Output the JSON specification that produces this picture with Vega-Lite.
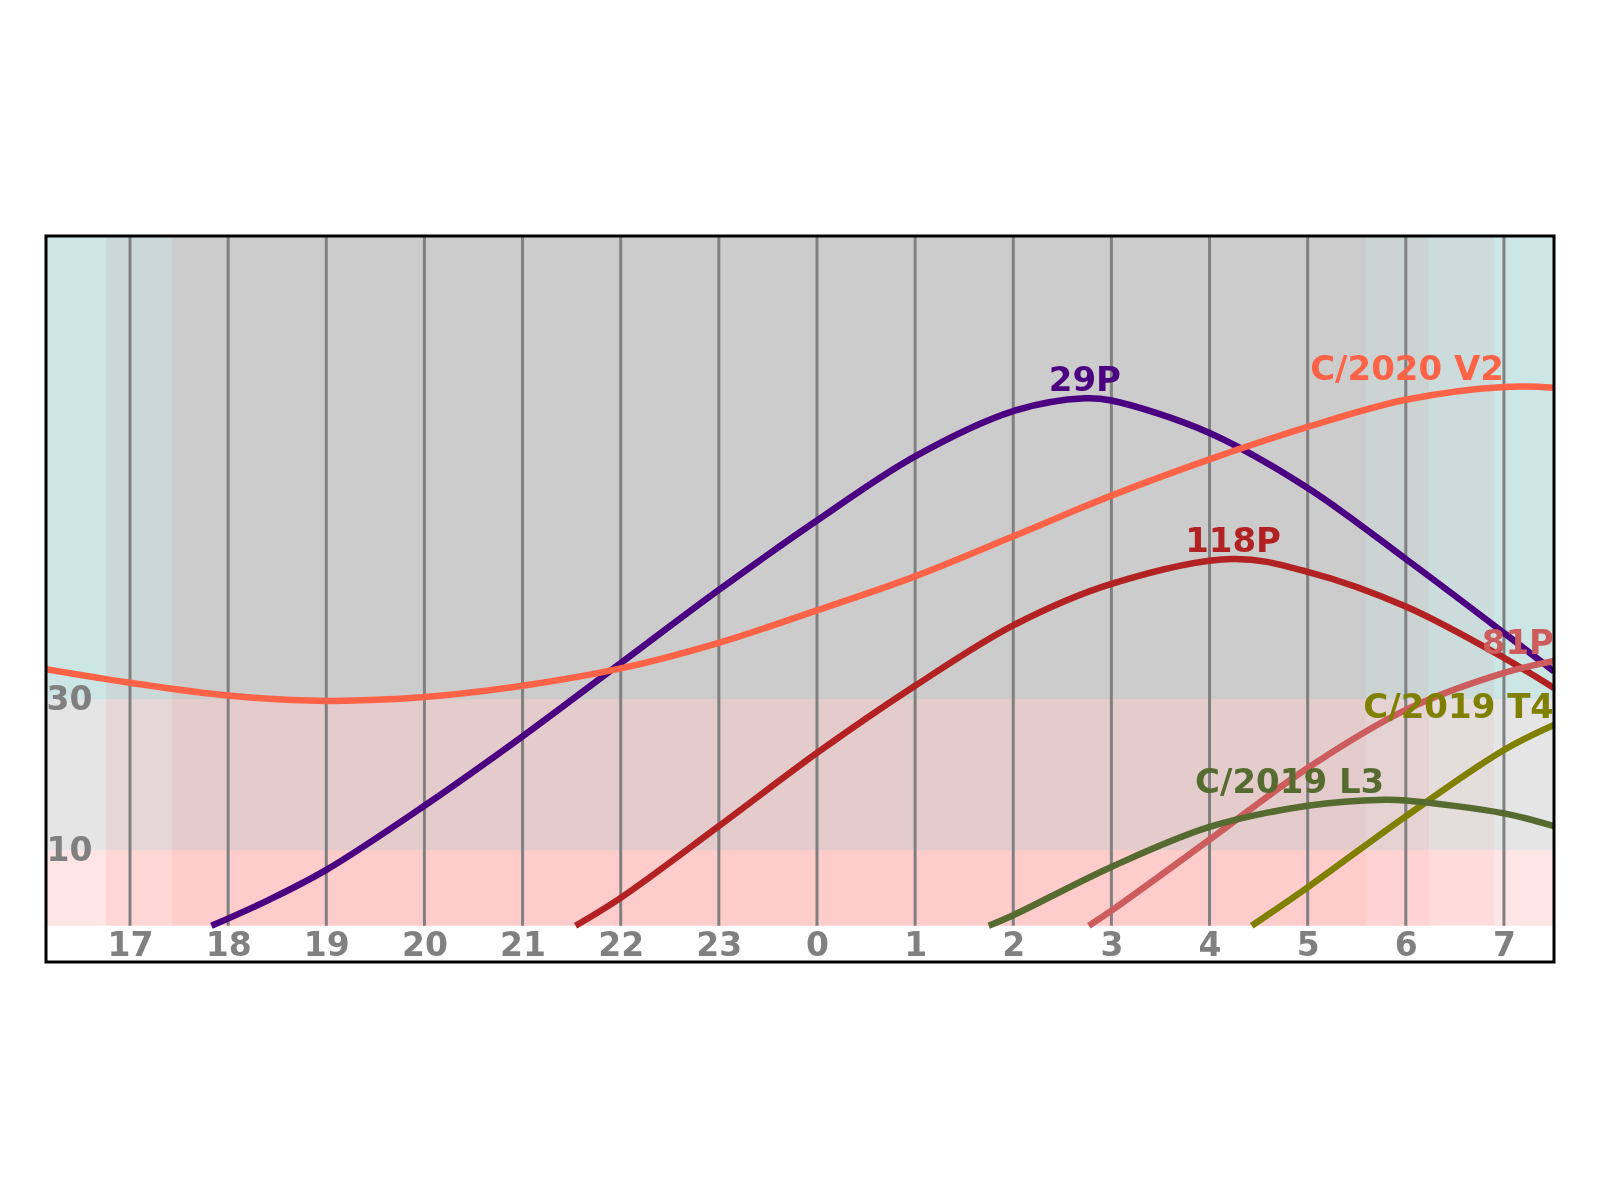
{
  "$schema": "https://vega.github.io/schema/vega-lite/v6.json",
  "width": 1508,
  "height": 726,
  "autosize": {"type": "none"},
  "padding": {"left": 46, "top": 236, "right": 46, "bottom": 238},
  "background": "white",
  "config": {
    "view": {"stroke": null},
    "font": "DejaVu Sans"
  },
  "datasets": {
    "vbands": [
      {"h0": 16.144, "h1": 16.755, "phase": "dusk civil"},
      {"h0": 16.755, "h1": 17.428, "phase": "dusk nautical"},
      {"h0": 17.428, "h1": 29.594, "phase": "night"},
      {"h0": 29.594, "h1": 30.236, "phase": "dawn astronomical"},
      {"h0": 30.236, "h1": 30.9, "phase": "dawn nautical"},
      {"h0": 30.9, "h1": 31.51, "phase": "dawn civil"}
    ],
    "hbands": [
      {"a0": 30, "a1": 91.4, "h0": 16.144, "h1": 31.51, "zone": "high"},
      {"a0": 10, "a1": 30, "h0": 16.144, "h1": 31.51, "zone": "mid"}
    ],
    "frame": [
      {"h0": 16.144, "h1": 31.51, "a0": -4.8, "a1": 91.4}
    ],
    "hours": [
      {"hour": 17}, {"hour": 18}, {"hour": 19}, {"hour": 20}, {"hour": 21},
      {"hour": 22}, {"hour": 23}, {"hour": 24}, {"hour": 25}, {"hour": 26},
      {"hour": 27}, {"hour": 28}, {"hour": 29}, {"hour": 30}, {"hour": 31}
    ],
    "curves": [
      {"comet": "29P", "hour": 17.83, "alt": 0},
      {"comet": "29P", "hour": 18.41, "alt": 3.4},
      {"comet": "29P", "hour": 19, "alt": 7.4},
      {"comet": "29P", "hour": 20, "alt": 15.9},
      {"comet": "29P", "hour": 21, "alt": 25.1},
      {"comet": "29P", "hour": 22, "alt": 34.8},
      {"comet": "29P", "hour": 23, "alt": 44.5},
      {"comet": "29P", "hour": 24, "alt": 53.7},
      {"comet": "29P", "hour": 25, "alt": 62.2},
      {"comet": "29P", "hour": 26, "alt": 68.2},
      {"comet": "29P", "hour": 26.73, "alt": 69.9},
      {"comet": "29P", "hour": 27, "alt": 69.6},
      {"comet": "29P", "hour": 28, "alt": 65.3},
      {"comet": "29P", "hour": 29, "alt": 58.0},
      {"comet": "29P", "hour": 30, "alt": 48.6},
      {"comet": "29P", "hour": 31, "alt": 38.8},
      {"comet": "29P", "hour": 31.51, "alt": 33.7},
      {"comet": "C/2020 V2", "hour": 16.144, "alt": 34.0},
      {"comet": "C/2020 V2", "hour": 17, "alt": 32.2},
      {"comet": "C/2020 V2", "hour": 18, "alt": 30.5},
      {"comet": "C/2020 V2", "hour": 19, "alt": 29.8},
      {"comet": "C/2020 V2", "hour": 20, "alt": 30.3},
      {"comet": "C/2020 V2", "hour": 21, "alt": 31.8},
      {"comet": "C/2020 V2", "hour": 22, "alt": 34.1},
      {"comet": "C/2020 V2", "hour": 23, "alt": 37.5},
      {"comet": "C/2020 V2", "hour": 24, "alt": 41.8},
      {"comet": "C/2020 V2", "hour": 25, "alt": 46.3},
      {"comet": "C/2020 V2", "hour": 26, "alt": 51.6},
      {"comet": "C/2020 V2", "hour": 27, "alt": 57.0},
      {"comet": "C/2020 V2", "hour": 28, "alt": 61.8},
      {"comet": "C/2020 V2", "hour": 29, "alt": 66.1},
      {"comet": "C/2020 V2", "hour": 30, "alt": 69.7},
      {"comet": "C/2020 V2", "hour": 31, "alt": 71.4},
      {"comet": "C/2020 V2", "hour": 31.51, "alt": 71.3},
      {"comet": "118P", "hour": 21.54, "alt": 0},
      {"comet": "118P", "hour": 22, "alt": 3.7},
      {"comet": "118P", "hour": 23, "alt": 13.2},
      {"comet": "118P", "hour": 24, "alt": 22.9},
      {"comet": "118P", "hour": 25, "alt": 31.8},
      {"comet": "118P", "hour": 26, "alt": 39.8},
      {"comet": "118P", "hour": 27, "alt": 45.3},
      {"comet": "118P", "hour": 28.24, "alt": 48.6},
      {"comet": "118P", "hour": 29, "alt": 46.9},
      {"comet": "118P", "hour": 30, "alt": 42.3},
      {"comet": "118P", "hour": 31, "alt": 35.5},
      {"comet": "118P", "hour": 31.51, "alt": 31.5},
      {"comet": "81P", "hour": 26.77, "alt": 0},
      {"comet": "81P", "hour": 27, "alt": 2.0},
      {"comet": "81P", "hour": 28, "alt": 11.4},
      {"comet": "81P", "hour": 29, "alt": 20.9},
      {"comet": "81P", "hour": 30, "alt": 28.6},
      {"comet": "81P", "hour": 31, "alt": 33.5},
      {"comet": "81P", "hour": 31.51, "alt": 35.1},
      {"comet": "C/2019 T4", "hour": 28.43, "alt": 0},
      {"comet": "C/2019 T4", "hour": 29, "alt": 5.1},
      {"comet": "C/2019 T4", "hour": 30, "alt": 14.5},
      {"comet": "C/2019 T4", "hour": 31, "alt": 23.3},
      {"comet": "C/2019 T4", "hour": 31.51, "alt": 26.6},
      {"comet": "C/2019 L3", "hour": 25.75, "alt": 0},
      {"comet": "C/2019 L3", "hour": 26, "alt": 1.4},
      {"comet": "C/2019 L3", "hour": 27, "alt": 7.8},
      {"comet": "C/2019 L3", "hour": 28, "alt": 13.1},
      {"comet": "C/2019 L3", "hour": 29, "alt": 15.9},
      {"comet": "C/2019 L3", "hour": 29.78, "alt": 16.7},
      {"comet": "C/2019 L3", "hour": 30, "alt": 16.6},
      {"comet": "C/2019 L3", "hour": 31, "alt": 14.9},
      {"comet": "C/2019 L3", "hour": 31.51, "alt": 13.2}
    ],
    "labels": [
      {"comet": "29P", "hour": 26.73, "alt": 69.9},
      {"comet": "118P", "hour": 28.24, "alt": 48.6},
      {"comet": "C/2020 V2", "hour": 31.0, "alt": 71.4},
      {"comet": "81P", "hour": 31.51, "alt": 35.1},
      {"comet": "C/2019 T4", "hour": 31.51, "alt": 26.6},
      {"comet": "C/2019 L3", "hour": 29.78, "alt": 16.7}
    ]
  },
  "layer": [
    {
      "data": {"name": "vbands"},
      "mark": {"type": "rect"},
      "encoding": {
        "x": {
          "field": "h0", "type": "quantitative", "title": null,
          "scale": {"domain": [16.144, 31.51], "nice": false, "zero": false},
          "axis": {
            "orient": "bottom", "values": [17, 18, 19, 20, 21, 22, 23, 24, 25, 26, 27, 28, 29, 30, 31],
            "labelExpr": "datum.value >= 24 ? datum.value - 24 : datum.value",
            "domain": false, "ticks": false, "tickSize": 0, "grid": false, "title": null,
            "labelFont": "DejaVu Sans", "labelFontWeight": "bold", "labelFontSize": 33,
            "labelColor": "#808080", "labelPadding": -7, "labelBaseline": "alphabetic",
            "labelFlush": false, "labelOverlap": false, "zindex": 1
          }
        },
        "x2": {"field": "h1"},
        "y": {
          "datum": 0, "type": "quantitative", "title": null,
          "scale": {"domain": [-4.8, 91.4], "nice": false, "zero": false},
          "axis": {
            "orient": "left", "values": [10, 30],
            "domain": false, "ticks": false, "tickSize": 0, "grid": false, "title": null,
            "labelFont": "DejaVu Sans", "labelFontWeight": "bold", "labelFontSize": 33,
            "labelColor": "#808080", "labelPadding": 0, "labelAlign": "left", "labelBaseline": "middle",
            "labelFlush": false, "labelOverlap": false, "zindex": 1
          }
        },
        "y2": {"datum": 91.4},
        "color": {
          "field": "phase", "type": "nominal", "legend": null,
          "scale": {
            "domain": ["dusk civil", "dusk nautical", "night", "dawn astronomical", "dawn nautical", "dawn civil"],
            "range": ["#ffe5e5", "#ffd7d7", "#ffcccc", "#ffd3d3", "#ffdcdc", "#ffe5e5"]
          }
        }
      }
    },
    {
      "data": {"name": "hbands"},
      "mark": {"type": "rect", "blend": "multiply"},
      "encoding": {
        "x": {"field": "h0", "type": "quantitative", "title": null},
        "x2": {"field": "h1"},
        "y": {"field": "a0", "type": "quantitative", "title": null},
        "y2": {"field": "a1"},
        "color": {
          "field": "zone", "type": "nominal", "legend": null,
          "scale": {"domain": ["high", "mid"], "range": ["#ccffff", "#e5ffff"]}
        }
      }
    },
    {
      "data": {"name": "hours"},
      "mark": {"type": "rule", "color": "#808080", "strokeWidth": 3},
      "encoding": {
        "x": {"field": "hour", "type": "quantitative", "title": null},
        "y": {"datum": 0, "type": "quantitative"},
        "y2": {"datum": 91.4}
      }
    },
    {
      "data": {"name": "curves"},
      "mark": {"type": "line", "strokeWidth": 6.5, "interpolate": "catmull-rom", "clip": true},
      "encoding": {
        "x": {"field": "hour", "type": "quantitative", "title": null},
        "y": {"field": "alt", "type": "quantitative", "title": null},
        "detail": {"field": "comet", "type": "nominal"},
        "order": {"field": "hour", "type": "quantitative"},
        "color": {
          "field": "comet", "type": "nominal", "legend": null,
          "scale": {
            "domain": ["29P", "C/2020 V2", "118P", "81P", "C/2019 T4", "C/2019 L3"],
            "range": ["#4b0082", "#ff6347", "#b22222", "#cd5c5c", "#808000", "#556b2f"]
          }
        }
      }
    },
    {
      "data": {"name": "frame"},
      "mark": {"type": "rect", "fill": null, "fillOpacity": 0, "stroke": "black", "strokeWidth": 3},
      "encoding": {
        "x": {"field": "h0", "type": "quantitative", "title": null},
        "x2": {"field": "h1"},
        "y": {"field": "a0", "type": "quantitative", "title": null},
        "y2": {"field": "a1"}
      }
    },
    {
      "data": {"name": "labels"},
      "transform": [{"filter": "datum.comet == '29P' || datum.comet == '118P'"}],
      "mark": {"type": "text", "align": "center", "baseline": "alphabetic", "dy": -7, "font": "DejaVu Sans", "fontWeight": "bold", "fontSize": 34},
      "encoding": {
        "x": {"field": "hour", "type": "quantitative", "title": null},
        "y": {"field": "alt", "type": "quantitative", "title": null},
        "text": {"field": "comet", "type": "nominal"},
        "color": {
          "field": "comet", "type": "nominal", "legend": null,
          "scale": {
            "domain": ["29P", "C/2020 V2", "118P", "81P", "C/2019 T4", "C/2019 L3"],
            "range": ["#4b0082", "#ff6347", "#b22222", "#cd5c5c", "#808000", "#556b2f"]
          }
        }
      }
    },
    {
      "data": {"name": "labels"},
      "transform": [{"filter": "datum.comet != '29P' && datum.comet != '118P'"}],
      "mark": {"type": "text", "align": "right", "baseline": "alphabetic", "dy": -7, "font": "DejaVu Sans", "fontWeight": "bold", "fontSize": 34},
      "encoding": {
        "x": {"field": "hour", "type": "quantitative", "title": null},
        "y": {"field": "alt", "type": "quantitative", "title": null},
        "text": {"field": "comet", "type": "nominal"},
        "color": {
          "field": "comet", "type": "nominal", "legend": null,
          "scale": {
            "domain": ["29P", "C/2020 V2", "118P", "81P", "C/2019 T4", "C/2019 L3"],
            "range": ["#4b0082", "#ff6347", "#b22222", "#cd5c5c", "#808000", "#556b2f"]
          }
        }
      }
    }
  ],
  "resolve": {"scale": {"color": "independent"}}
}
